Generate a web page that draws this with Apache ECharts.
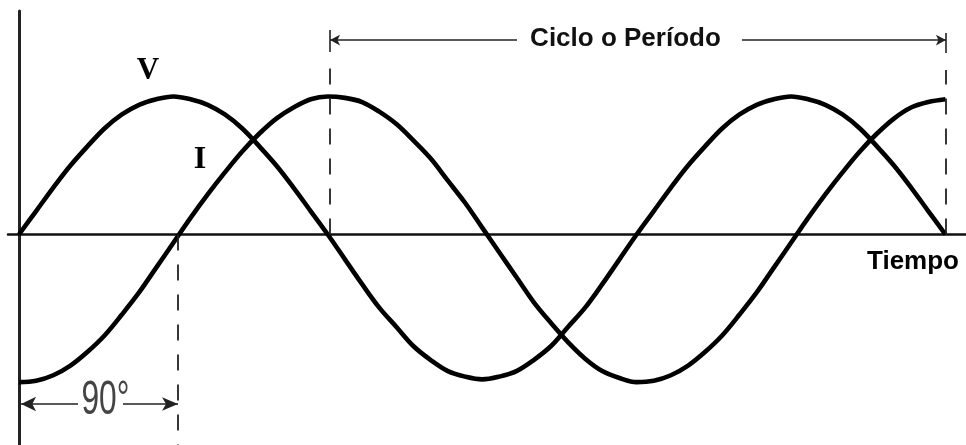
<!DOCTYPE html>
<html>
<head>
<meta charset="utf-8">
<style>
	html, body { margin: 0; padding: 0; background: #fff; }
	#chart { width: 966px; height: 445px; }
</style>
<script src="https://cdn.jsdelivr.net/npm/echarts@6/dist/echarts.min.js"></script>
</head>
<body>
<div id="chart"></div>
<script>
	// phase angle in degrees along the time axis
	const angles = [0, 10, 20, 30, 40, 50, 60, 70, 80, 90, 100, 110, 120, 130, 140, 150, 160, 170, 180,
		190, 200, 210, 220, 230, 240, 250, 260, 270, 280, 290, 300, 310, 320, 330, 340, 350, 360,
		370, 380, 390, 400, 410, 420, 430, 440, 450, 460, 470, 480, 490, 500, 510, 520, 530, 540];
	// voltage curve (peak = 1)
	const voltage = [0, 0.17, 0.34, 0.5, 0.64, 0.77, 0.87, 0.94, 0.98, 1.0, 0.98, 0.94, 0.87, 0.77, 0.64, 0.5, 0.34, 0.17, 0,
		-0.18, -0.36, -0.53, -0.67, -0.81, -0.91, -0.99, -1.03, -1.05, -1.03, -0.99, -0.91, -0.81, -0.67, -0.53, -0.36, -0.18, 0,
		0.17, 0.34, 0.5, 0.64, 0.77, 0.87, 0.94, 0.98, 1.0, 0.98, 0.94, 0.87, 0.77, 0.64, 0.5, 0.34, 0.17, 0];
	// current curve, lagging about 90 degrees
	const current = [-1.07, -1.06, -1.02, -0.95, -0.85, -0.73, -0.58, -0.42, -0.24, -0.06, 0.12, 0.29, 0.45, 0.6, 0.73, 0.84, 0.92, 0.98, 1.0,
		0.99, 0.96, 0.89, 0.8, 0.68, 0.55, 0.39, 0.23, 0.05, -0.13, -0.31, -0.49, -0.64, -0.78, -0.9, -0.99, -1.04, -1.07,
		-1.06, -1.02, -0.95, -0.85, -0.73, -0.58, -0.42, -0.24, -0.06, 0.12, 0.29, 0.45, 0.6, 0.73, 0.84, 0.92, 0.96, 0.98];
	// texts
	const curveNames = ['V', 'I'];
	const periodText = 'Ciclo o Período';
	const axisText = 'Tiempo';
	const phaseText = '90°';

	const chart = echarts.init(document.getElementById('chart'));

	const pair = (a, b) => a.map((v, i) => [v, b[i]]);
	const arrowLine = { color: '#222', width: 1.6, type: 'solid' };
	const dashLine = { color: '#222', width: 1.8, type: [16, 14] };
	const textLabel = (text, size, family, weight, color) => ({
		show: true, formatter: text, position: 'inside',
		fontSize: size, fontFamily: family, fontWeight: weight, color: color,
		align: 'center', verticalAlign: 'middle'
	});

	let option = {
		animation: false,
		grid: { left: 8, right: 0, top: 11, bottom: 0 },
		xAxis: {
			type: 'value', min: -6.4, max: 552,
			axisLine: { show: true, onZero: true, lineStyle: { color: '#111', width: 2.5 } },
			axisTick: { show: false }, axisLabel: { show: false }, splitLine: { show: false }
		},
		yAxis: {
			type: 'value', min: -1.5254, max: 1.6196,
			axisLine: { show: true, onZero: true, lineStyle: { color: '#222', width: 3 } },
			axisTick: { show: false }, axisLabel: { show: false }, splitLine: { show: false }
		},
		series: [{
			name: curveNames[0],
			type: 'line',
			data: pair(angles, voltage),
			smooth: 0.35,
			showSymbol: false,
			lineStyle: { color: '#000', width: 4.6 },
			markLine: {
				silent: true,
				symbol: 'none',
				label: { show: false },
				emphasis: { disabled: true },
				data: [
					// period arrow
					[{ coord: [181.3, 1.409], symbol: 'arrow', symbolSize: [8, 10], lineStyle: arrowLine }, { coord: [290.3, 1.409] }],
					[{ coord: [421.4, 1.409], lineStyle: arrowLine }, { coord: [540.3, 1.409], symbol: 'arrow', symbolSize: [8, 10] }],
					[{ coord: [181.3, 1.482], lineStyle: arrowLine }, { coord: [181.3, 1.322] }],
					[{ coord: [540.3, 1.46], lineStyle: arrowLine }, { coord: [540.3, 1.315] }],
					// dashed guides
					[{ coord: [181.3, 0], lineStyle: dashLine }, { coord: [181.3, 1.214] }],
					[{ coord: [540.3, 0], lineStyle: dashLine }, { coord: [540.3, 1.192] }],
					[{ coord: [92.7, 0], lineStyle: dashLine }, { coord: [92.7, -1.5254] }],
					// 90 degree arrow
					[{ coord: [1.2, -1.228], symbol: 'arrow', symbolSize: [11, 15], lineStyle: arrowLine }, { coord: [34.4, -1.228] }],
					[{ coord: [60.6, -1.228], lineStyle: arrowLine }, { coord: [92.7, -1.228], symbol: 'arrow', symbolSize: [10, 16] }]
				]
			},
			markPoint: {
				silent: true,
				symbol: 'circle',
				symbolSize: 1,
				itemStyle: { color: 'rgba(0,0,0,0)' },
				data: [
					{ coord: [75.2, 1.185], label: textLabel(curveNames[0], 31, 'Liberation Serif', 'bold', '#000') },
					{ coord: [105.5, 0.54], label: textLabel(curveNames[1], 32, 'Liberation Serif', 'bold', '#000') },
					{ coord: [353.5, 1.417], label: textLabel(periodText, 26, 'Liberation Sans', 'bold', '#111') },
					{ coord: [521.1, -0.199], label: textLabel(axisText, 26, 'Liberation Sans', 'bold', '#000') }
				]
			}
		}, {
			name: curveNames[1],
			type: 'line',
			data: pair(angles, current),
			smooth: 0.35,
			showSymbol: false,
			lineStyle: { color: '#000', width: 4.6 }
		}]
	};
	chart.setOption(option);

	// condensed "90°" label placed through the chart scales
	const p = chart.convertToPixel({ gridIndex: 0 }, [50.4, -1.207]);
	chart.setOption({
		graphic: [{
			type: 'text', x: p[0], y: p[1], scaleX: 0.66, silent: true,
			style: {
				text: phaseText, fontSize: 48, fontFamily: 'Liberation Sans',
				fill: '#444', align: 'center', verticalAlign: 'middle'
			}
		}]
	});
</script>
</body>
</html>
